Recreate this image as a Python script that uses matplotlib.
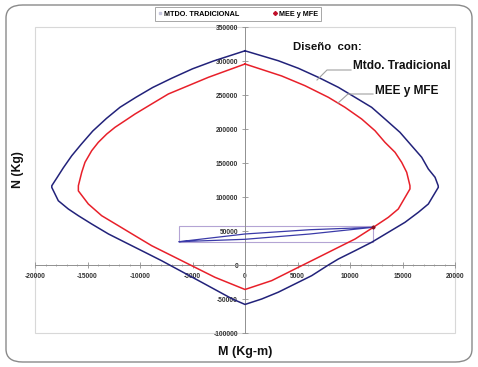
import matplotlib
matplotlib.use("Agg")
import matplotlib.pyplot as plt
from matplotlib.patches import FancyBboxPatch, Rectangle
from matplotlib.lines import Line2D
from matplotlib.ticker import MultipleLocator

plt.rcParams['font.family'] = ['Liberation Sans', 'DejaVu Sans']

# diagrama de interaccion, metodo tradicional (M en Kg-m, N en Kg)
trad_m = [0, 3170, 5080, 6980, 8890, 10480, 12060, 13330, 14760, 15870, 16830, 17460,
          18100, 18400, 18410, 17460, 16510, 15240, 13650, 12060, 10480, 8890, 7940,
          6350, 3170, 1590, 0, -1200, -4130, -7940, -9520, -11430, -13000, -14600,
          -15870, -16830, -17780, -18400, -18400, -17900, -17300, -16500, -15600, -14500,
          -13200, -11900, -10400, -8800, -7000, -5000, -3000, 0]
trad_n = [315000, 300400, 289300, 276000, 261300, 246600, 231900, 214700, 195100, 175400, 158400, 141200,
          129000, 116600, 114200, 89700, 77500, 62800, 48100, 33400, 21000, 8800, 0,
          -15700, -40000, -50000, -58000, -50000, -25400, 6300, 18600, 33400, 45600, 60300,
          72500, 82400, 94500, 114000, 116600, 128500, 143000, 160700, 177500, 197000,
          215500, 232000, 246500, 261000, 274500, 288500, 300000, 315000]

# diagrama MEE y MFE
mee_m = [0, 3490, 5710, 7940, 9520, 11110, 12380, 13330, 14290, 14920, 15400, 15710,
         15710, 14600, 13650, 12220, 10480, 8570, 6670, 5080, 2540, 0, -2860, -5400,
         -6980, -8890, -10480, -12060, -13650, -14920, -15870, -15870, -15550, -15240,
         -14600, -13970, -13170, -12380, -11430, -10480, -8890, -7300, -5400, -3490, 0]
mee_n = [295600, 278000, 263700, 246600, 231900, 214700, 197500, 180400, 165700, 151000, 136300, 116600,
         111800, 82400, 70100, 55400, 38200, 23500, 8800, -3400, -23000, -36000, -18100, 1500,
         13700, 28400, 43100, 57800, 72500, 89700, 109000, 116600, 136300, 151000,
         168100, 180400, 192600, 202500, 212200, 222000, 236800, 251500, 263700, 276000, 295600]

# lazo pequeno (carga de servicio)
lazo_m = [-6260, 0, 6190, 12160, 6190, 0, -6260]
lazo_n = [34300, 45600, 51900, 55400, 45600, 37800, 34300]
caja_m = [-6260, 12160]
caja_n = [33400, 56900]
punto_m = [12160]
punto_n = [55400]

x_ticks = [-20000, -15000, -10000, -5000, 0, 5000, 10000, 15000, 20000]
y_ticks = [-100000, -50000, 0, 50000, 100000, 150000, 200000, 250000, 300000, 350000]

azul = '#22227a'
rojo = '#e8202a'

fig = plt.figure(figsize=(4.78, 3.67), dpi=100)
fig.patch.set_facecolor('white')

# borde redondeado de la figura
borde = FancyBboxPatch((6 / 478, 5 / 367), 466 / 478, 357 / 367,
                       boxstyle="round,pad=0,rounding_size=0.035",
                       transform=fig.transFigure, facecolor='none',
                       edgecolor='#8a8a8a', linewidth=1.0)
fig.patches.append(borde)

ax = fig.add_axes([35 / 478, 1 - 333 / 367, 420 / 478, 306 / 367])
ax.set_xlim(-20000, 20000)
ax.set_ylim(-100000, 350000)

ax.plot(trad_m, trad_n, color=azul, linewidth=1.1, zorder=3)
ax.plot(mee_m, mee_n, color=rojo, linewidth=1.1, zorder=3)
ax.plot(lazo_m, lazo_n, color='#3a3aa8', linewidth=0.9, zorder=4)
ax.add_patch(Rectangle((caja_m[0], caja_n[0]), caja_m[1] - caja_m[0], caja_n[1] - caja_n[0],
                       fill=False, edgecolor='#b4a4d4', linewidth=0.8, zorder=2))
ax.plot(punto_m, punto_n, marker='D', markersize=1.6, color='#8a1020', linestyle='none', zorder=5)

# ejes cruzando en el origen
for s in ['top', 'right']:
    ax.spines[s].set_visible(False)
ax.spines['left'].set_position(('data', 0))
ax.spines['bottom'].set_position(('data', 0))
for s in ['left', 'bottom']:
    ax.spines[s].set_color('#909090')
    ax.spines[s].set_linewidth(0.7)

# marco del area de trazado
ax.add_patch(Rectangle((0, 0), 1, 1, transform=ax.transAxes, fill=False,
                       edgecolor='#d8d8d8', linewidth=0.8, zorder=0, clip_on=False))

ax.set_xticks(x_ticks)
ax.set_yticks(y_ticks)
ax.xaxis.set_minor_locator(MultipleLocator(1000))
ax.set_xticklabels([str(v) for v in x_ticks])
ax.set_yticklabels([str(v) for v in y_ticks])
ax.tick_params(axis='both', which='major', direction='inout', length=4, width=0.6,
               color='#909090', labelsize=4.8, labelcolor='#333333')
ax.tick_params(axis='x', which='minor', direction='inout', length=2, width=0.5, color='#909090')
ax.tick_params(axis='x', pad=4)
ax.tick_params(axis='y', pad=3)
for lab in ax.get_xticklabels() + ax.get_yticklabels():
    lab.set_fontweight('bold')

# anotaciones
fig.text(293 / 478, 1 - 47 / 367, 'Diseño  con:', fontsize=8.2, fontweight='bold',
         ha='left', va='center', color='#111111')
fig.text(353 / 478, 1 - 66 / 367, 'Mtdo. Tradicional', fontsize=8.6, fontweight='bold',
         ha='left', va='center', color='#111111')
fig.text(375 / 478, 1 - 91 / 367, 'MEE y MFE', fontsize=8.6, fontweight='bold',
         ha='left', va='center', color='#111111')
fig.add_artist(Line2D([317 / 478, 327 / 478, 351 / 478],
                      [1 - 80 / 367, 1 - 70 / 367, 1 - 70 / 367],
                      transform=fig.transFigure, color='#a0a0a0', linewidth=0.8))
fig.add_artist(Line2D([338 / 478, 348 / 478, 373 / 478],
                      [1 - 103 / 367, 1 - 94 / 367, 1 - 94 / 367],
                      transform=fig.transFigure, color='#a0a0a0', linewidth=0.8))

# titulos de ejes
fig.text(18 / 478, 1 - 170 / 367, 'N (Kg)', fontsize=8.8, fontweight='bold',
         rotation=90, ha='center', va='center', color='#111111')
fig.text(245 / 478, 1 - 352 / 367, 'M (Kg-m)', fontsize=9, fontweight='bold',
         ha='center', va='center', color='#111111')

# leyenda
handles = [Line2D([], [], marker='s', markersize=1.6, color='#c8c8e0', linestyle='none'),
           Line2D([], [], marker='D', markersize=2.0, color='#c0102a', linestyle='none')]
leg = fig.legend(handles, ['MTDO. TRADICIONAL', 'MEE y MFE'], loc='center',
                 bbox_to_anchor=(238 / 478, 1 - 14 / 367), ncol=2,
                 prop={'size': 5.2, 'weight': 'bold'}, frameon=True, fancybox=False,
                 edgecolor='#909090', handlelength=0.6, handletextpad=0.3,
                 columnspacing=4.5, borderpad=0.45, borderaxespad=0)
leg.get_frame().set_linewidth(0.7)

fig.savefig('out.png', dpi=100)
